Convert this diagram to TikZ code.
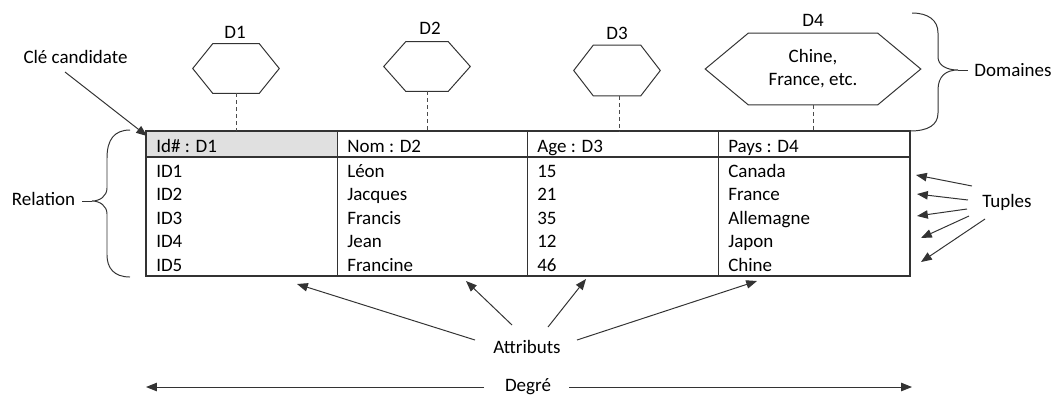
\documentclass[tikz,border=0pt]{standalone}
\usepackage{fontspec}
\setmainfont{Carlito}
\usetikzlibrary{arrows.meta,calc}

\begin{document}
\begin{tikzpicture}[x=0.025cm,y=-0.025cm,
  every node/.style={font=\fontsize{13.5}{16.2}\selectfont,text=black,inner sep=0pt},
  cellule/.style={anchor=base west},
  trait/.style={draw=black!80,line width=0.7pt},
  fleche/.style={trait,-{Triangle[length=0.27cm,width=0.21cm]}},
  pointille/.style={draw=black!70,line width=0.6pt,dash pattern=on 0.1cm off 0.075cm},
  domaine/.style={minimum width=2.15cm,minimum height=1.225cm}]
\useasboundingbox (0,0) rectangle (1056,397);

% la relation
\coordinate (tl) at (146,131);
\coordinate (br) at (910,276);
\fill[black!12] (tl) rectangle (337,157);
\draw[trait,line width=0.9pt] (tl) rectangle (br);
\draw[trait,line width=0.9pt] (146,157) -- (910,157);
\draw[trait] (337,131) -- (337,276);
\draw[trait] (527,131) -- (527,276);
\draw[trait] (718,131) -- (718,276);

\node[cellule] (id) at (156,152) {Id\# : D1};
\node[cellule] (nom) at (347,152) {Nom : D2};
\node[cellule] (age) at (537,152) {Age : D3};
\node[cellule] (pays) at (728,152) {Pays : D4};

\node[cellule] (id1) at (156,177) {ID1};
\node[cellule] (id2) at (156,200.5) {ID2};
\node[cellule] (id3) at (156,224) {ID3};
\node[cellule] (id4) at (156,247.5) {ID4};
\node[cellule] (id5) at (156,271) {ID5};
\node[cellule] (nom1) at (347,177) {Léon};
\node[cellule] (nom2) at (347,200.5) {Jacques};
\node[cellule] (nom3) at (347,224) {Francis};
\node[cellule] (nom4) at (347,247.5) {Jean};
\node[cellule] (nom5) at (347,271) {Francine};
\node[cellule] (age1) at (537,177) {15};
\node[cellule] (age2) at (537,200.5) {21};
\node[cellule] (age3) at (537,224) {35};
\node[cellule] (age4) at (537,247.5) {12};
\node[cellule] (age5) at (537,271) {46};
\node[cellule] (pays1) at (728,177) {Canada};
\node[cellule] (pays2) at (728,200.5) {France};
\node[cellule] (pays3) at (728,224) {Allemagne};
\node[cellule] (pays4) at (728,247.5) {Japon};
\node[cellule] (pays5) at (728,271) {Chine};

% les domaines
\node[domaine] (h1) at (236,68.5) {};
\node[domaine] (h2) at (427,66.5) {};
\node[domaine,minimum height=1.25cm] (h3) at (617,70.5) {};
\node[domaine,minimum width=5.375cm,minimum height=1.775cm,align=center] (h4) at (813,69) {Chine,\\France, etc.};
\draw[trait] (h1.west) -- ($(h1.north west)+(20,0)$) -- ($(h1.north east)+(-20,0)$) -- (h1.east) -- ($(h1.south east)+(-20,0)$) -- ($(h1.south west)+(20,0)$) -- cycle;
\draw[trait] (h2.west) -- ($(h2.north west)+(22,0)$) -- ($(h2.north east)+(-22,0)$) -- (h2.east) -- ($(h2.south east)+(-22,0)$) -- ($(h2.south west)+(22,0)$) -- cycle;
\draw[trait] (h3.west) -- ($(h3.north west)+(19.5,0)$) -- ($(h3.north east)+(-19.5,0)$) -- (h3.east) -- ($(h3.south east)+(-19.5,0)$) -- ($(h3.south west)+(19.5,0)$) -- cycle;
\draw[trait] (h4.west) -- ($(h4.north west)+(43,0)$) -- ($(h4.north east)+(-43,0)$) -- (h4.east) -- ($(h4.south east)+(-43,0)$) -- ($(h4.south west)+(43,0)$) -- cycle;

\node (d1) at (235,32) {D1};
\node (d2) at (430,28) {D2};
\node (d3) at (617,33) {D3};
\node (d4) at (813,20) {D4};

\draw[pointille] (h1.south) -- (h1.south |- tl);
\draw[pointille] (h2.south) -- (h2.south |- tl);
\draw[pointille] ([xshift=0.05cm]h3.south) -- ([xshift=0.05cm]h3.south |- tl);
\draw[pointille] (h4.south) -- (h4.south |- tl);

% les accolades
\coordinate (rb) at (92,201);
\draw[trait] (130,130) .. controls (114,130) and (107,140) .. (107,158) -- (107,188) .. controls (107,196) and (100,201) .. (rb) .. controls (100,201) and (107,206) .. (107,214) -- (107,255) .. controls (107,268) and (114,277) .. (130,277);
\draw[trait] (rb) -- ++(-10,0);
\coordinate (db) at (958,70);
\draw[trait] (912,13) .. controls (928,13) and (938,20) .. (938,33) -- (938,57) .. controls (938,65) and (946,70) .. (db) .. controls (946,70) and (938,76) .. (938,90) -- (938,113) .. controls (938,125) and (928,131) .. (910,131);
\draw[trait] (db) -- ++(10,0);

\node (relation) at (43.5,199) {Relation};
\node (domaines) at (1013,70) {Domaines};
\node (cle) at (75.5,57) {Clé candidate};
\node (tuples) at (1007,202) {Tuples};
\node (attributs) at (527,347) {Attributs};
\node (degre) at (528,387) {Degré};

% les fleches
\draw[fleche] ($(cle)+(-10.5,15)$) -- ($(tl)+(1,5)$);

\coordinate (t1) at (916,175);
\coordinate (t2) at (917,194);
\coordinate (t3) at (917,216);
\coordinate (t4) at (921,238);
\coordinate (t5) at (921,262);
\draw[fleche] ($(tuples)+(-35,-16)$) -- (t1);
\draw[fleche] ($(tuples)+(-39,-2)$) -- (t2);
\draw[fleche] ($(tuples)+(-40,7)$) -- (t3);
\draw[fleche] ($(tuples)+(-38,14)$) -- (t4);
\draw[fleche] ($(tuples)+(-22,17)$) -- (t5);

\coordinate (a1) at (297,284);
\coordinate (a2) at (466,281);
\coordinate (a3) at (586,279);
\coordinate (a4) at (757,281);
\draw[fleche] ($(attributs)+(-52,-7)$) -- (a1);
\draw[fleche] ($(attributs)+(-15,-22)$) -- (a2);
\draw[fleche] ($(attributs)+(21,-20)$) -- (a3);
\draw[fleche] ($(attributs)+(50,-7)$) -- (a4);

\coordinate (degL) at (146,387);
\coordinate (degR) at (912,387);
\draw[fleche] ($(degre)+(-44,0)$) -- (degL);
\draw[fleche] ($(degre)+(41,0)$) -- (degR);
\end{tikzpicture}
\end{document}
